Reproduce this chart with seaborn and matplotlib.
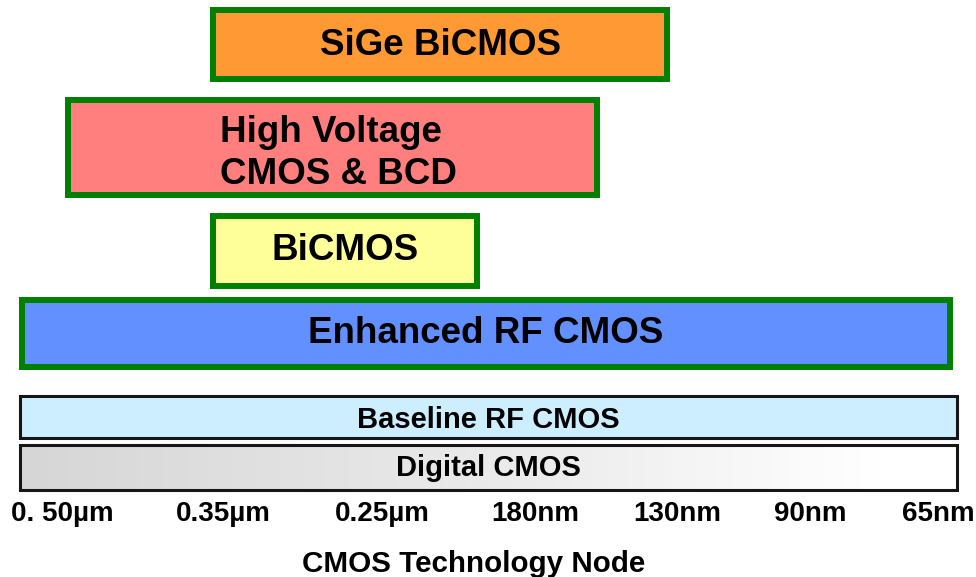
import numpy as np
import matplotlib
matplotlib.use("Agg")
import matplotlib.pyplot as plt
from matplotlib.colors import LinearSegmentedColormap
import seaborn as sns

# ---- data ----
nodes = ["0. 50µm", "0.35µm", "0.25µm", "180nm", "130nm", "90nm", "65nm"]
processes = ["SiGe BiCMOS", "High Voltage\nCMOS & BCD", "BiCMOS",
             "Enhanced RF CMOS", "Baseline RF CMOS", "Digital CMOS"]
# span of each process in node-index units (0 = 0.50µm ... 6 = 65nm)
span_start = [0.94, 0.04, 0.94, -0.25, -0.26, -0.26]
span_end = [3.93, 3.44, 2.62, 6.09, 6.15, 6.15]
x_title = "CMOS Technology Node"

# ---- layout / style ----
W, H = 976, 577
node_px = [62, 223, 382, 535, 677, 810, 938]   # tick label centres
row_center = [44.5, 147.5, 251, 333.5, 416.5, 467]
row_height = [69, 95, 70, 67, 42, 45]
text_dy = [1, 6, 0, 0, 3, 1]
text_dx = [0, 5, 0, 0, 0, 0]
face = ["#FF9933", "#FF7F7F", "#FFFF99", "#6390FF", "#CCEEFF", "none"]
edge = ["#008000"] * 4 + ["#161616", "#161616"]
lw = [4.3] * 4 + [2.2, 2.2]
fsize = [26.5, 26.5, 26.5, 26.5, 21, 21]


def node_scale(v):
    """node index -> axis position, linear between ticks, extrapolated at ends"""
    v = np.asarray(v, dtype=float)
    idx = np.arange(len(node_px))
    out = np.interp(v, idx, node_px)
    lo = v < 0
    hi = v > idx[-1]
    out[lo] = node_px[0] + v[lo] * (node_px[1] - node_px[0])
    out[hi] = node_px[-1] + (v[hi] - idx[-1]) * (node_px[-1] - node_px[-2])
    return out


sns.set_theme(style="white")
plt.rcParams["font.family"] = ["Liberation Sans", "DejaVu Sans"]
plt.rcParams["font.weight"] = "bold"

fig = plt.figure(figsize=(W / 100, H / 100), dpi=100)
bottom_px = 493
ax = fig.add_axes([0, 1 - bottom_px / H, 1, bottom_px / H])
ax.set_xlim(0, W)
ax.set_ylim(bottom_px, 0)

x0 = node_scale(span_start)
x1 = node_scale(span_end)

bars = ax.barh(row_center, x1 - x0, left=x0, height=row_height,
               color=face, edgecolor=edge, linewidth=lw, zorder=3)
for b in bars:
    b.set_joinstyle("miter")

# gradient fill for the Digital CMOS bar
dig = bars[5]
grad_cmap = LinearSegmentedColormap.from_list(
    "g", [(0, "#d6d6d6"), (0.55, "#ececec"), (0.92, "#ffffff"), (1, "#ffffff")])
grad = np.linspace(0, 1, 256).reshape(1, -1)
bx, by = dig.get_x(), dig.get_y()
im = ax.imshow(grad, cmap=grad_cmap, aspect="auto",
               extent=[bx, bx + dig.get_width(), by + dig.get_height(), by],
               zorder=2, interpolation="bilinear")
im.set_clip_path(dig)
ax.set_xlim(0, W)
ax.set_ylim(bottom_px, 0)

for i, name in enumerate(processes):
    cx = (x0[i] + x1[i]) / 2
    ax.text(cx + text_dx[i], row_center[i] + text_dy[i], name,
            ha="center", va="center", multialignment="left",
            fontsize=fsize[i], fontweight="bold", color="black",
            linespacing=1.25, zorder=4)

ax.set_xticks(node_px)
ax.set_xticklabels(nodes, fontsize=20, fontweight="bold", color="black")
ax.tick_params(axis="x", length=0, pad=5.5)
ax.set_yticks([])
for s in ax.spines.values():
    s.set_visible(False)
ax.set_xlabel(x_title, fontsize=21.3, fontweight="bold", color="black")
ax.xaxis.set_label_coords(474 / W, -(550 - bottom_px) / bottom_px)
ax.xaxis.label.set_va("top")
ax.patch.set_alpha(0)

fig.savefig("out.png", dpi=100, facecolor="white")
